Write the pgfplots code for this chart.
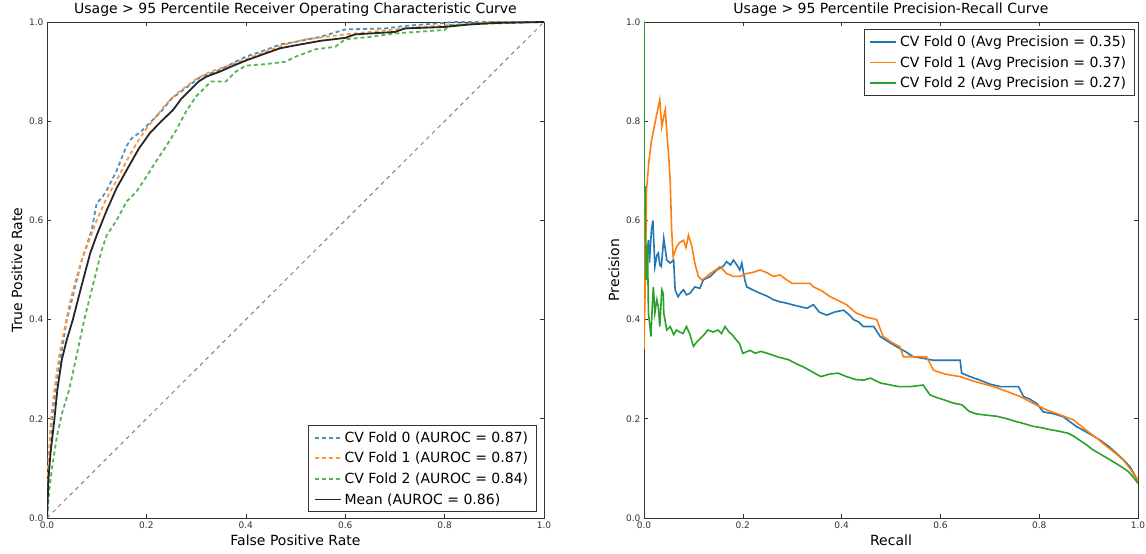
\documentclass[border=0pt]{standalone}
\usepackage{fontspec}
\setmainfont{DejaVu Sans}
\usepackage{pgfplots}
\pgfplotsset{compat=1.18}
\definecolor{cA}{HTML}{1F77B4}
\definecolor{cB}{HTML}{FF7F0E}
\definecolor{cC}{HTML}{2CA02C}
\definecolor{frame}{HTML}{333333}
\pgfplotsset{
  mpl/.style={
    scale only axis, anchor=south west,
    xmin=0, xmax=1, ymin=0, ymax=1,
    xtick={0,0.2,0.4,0.6,0.8,1.0}, ytick={0,0.2,0.4,0.6,0.8,1.0},
    tick align=inside, major tick length=4pt,
    tick style={color=frame, line width=0.6pt},
    axis line style={color=frame, line width=0.8pt},
    /pgf/number format/assume math mode=true,
    /pgf/number format/fixed, /pgf/number format/fixed zerofill,
    /pgf/number format/precision=1,
    ticklabel style={font=\fontsize{9}{10}\selectfont, text=frame},
    label style={font=\fontsize{14}{16}\selectfont},
    title style={font=\fontsize{14}{16}\selectfont, yshift=-4pt},
    legend cell align=left,
    legend style={font=\fontsize{14}{16}\selectfont, draw=frame, line width=0.8pt,
      inner xsep=5pt, inner ysep=3pt, row sep=2.5pt, nodes={inner sep=3pt}},
  }
}
\begin{document}
\begin{tikzpicture}
\useasboundingbox (0,0) rectangle (1146pt,554pt);
\begin{axis}[mpl, at={(47pt,36pt)}, width=497pt, height=496pt,
  title={Usage > 95 Percentile Receiver Operating Characteristic Curve},
  xlabel={False Positive Rate}, ylabel={True Positive Rate},
  legend style={at={(0.985,0.012)}, anchor=south east},
  legend image code/.code={\draw[#1] (0pt,0pt) -- (26pt,0pt);},
]
\addplot[cA!80, line width=1.8pt, dash pattern=on 4pt off 3pt, forget plot] coordinates {
(0,0)(0.005,0.12)(0.01,0.2)(0.02,0.28)(0.03,0.34)(0.04,0.4)(0.05,0.44)(0.06,0.48)(0.07,0.52)(0.08,0.55)(0.09,0.58)(0.1,0.635)(0.11,0.645)(0.12,0.66)(0.14,0.7)(0.16,0.75)(0.17,0.765)(0.19,0.78)(0.21,0.8)(0.23,0.82)(0.25,0.845)(0.27,0.86)(0.29,0.875)(0.31,0.89)(0.34,0.9)(0.37,0.915)(0.4,0.93)(0.43,0.94)(0.47,0.955)(0.5,0.96)(0.55,0.97)(0.6,0.985)(0.68,0.987)(0.72,0.992)(0.82,1.0)(1,1)};
\addplot[cB!80, line width=1.8pt, dash pattern=on 4pt off 3pt, forget plot] coordinates {
(0,0)(0.002,0.1)(0.008,0.2)(0.015,0.26)(0.025,0.33)(0.035,0.38)(0.045,0.43)(0.055,0.47)(0.07,0.52)(0.085,0.56)(0.1,0.6)(0.12,0.645)(0.14,0.68)(0.16,0.72)(0.18,0.755)(0.2,0.785)(0.22,0.81)(0.24,0.835)(0.26,0.855)(0.28,0.87)(0.3,0.885)(0.33,0.9)(0.36,0.91)(0.4,0.925)(0.44,0.94)(0.48,0.955)(0.52,0.965)(0.56,0.97)(0.6,0.975)(0.7,0.985)(0.75,0.99)(0.8,0.993)(0.9,1.0)(1,1)};
\addplot[cC!80, line width=1.8pt, dash pattern=on 4pt off 3pt, forget plot] coordinates {
(0,0)(0.005,0.06)(0.01,0.1)(0.02,0.165)(0.03,0.21)(0.045,0.26)(0.06,0.33)(0.075,0.4)(0.09,0.46)(0.1,0.5)(0.11,0.54)(0.12,0.57)(0.14,0.6)(0.16,0.638)(0.18,0.658)(0.2,0.688)(0.22,0.72)(0.24,0.75)(0.26,0.782)(0.28,0.82)(0.3,0.85)(0.33,0.88)(0.36,0.88)(0.38,0.9)(0.4,0.912)(0.44,0.915)(0.48,0.92)(0.5,0.93)(0.54,0.945)(0.58,0.95)(0.6,0.965)(0.65,0.97)(0.7,0.977)(0.8,0.984)(0.81,0.994)(0.9,0.997)(1,1)};
\addplot[black!85, line width=1.8pt, forget plot] coordinates {
(0,0)(0.003,0.08)(0.007,0.13)(0.015,0.2)(0.021,0.26)(0.03,0.32)(0.04,0.36)(0.052,0.40)(0.07,0.47)(0.087,0.534)(0.1,0.57)(0.12,0.62)(0.14,0.665)(0.164,0.708)(0.185,0.745)(0.207,0.776)(0.23,0.8)(0.254,0.823)(0.27,0.845)(0.288,0.863)(0.305,0.88)(0.321,0.89)(0.348,0.9)(0.375,0.912)(0.402,0.923)(0.435,0.935)(0.469,0.947)(0.5,0.953)(0.55,0.962)(0.6,0.968)(0.62,0.975)(0.7,0.98)(0.72,0.987)(0.8,0.99)(0.85,0.995)(0.9,0.998)(1,1)};
\addplot[gray, line width=1pt, dash pattern=on 4pt off 4pt, forget plot] coordinates {(0,0)(1,1)};
\addlegendimage{cA!80, line width=1.8pt, dash pattern=on 4pt off 3pt}
\addlegendentry{CV Fold 0 (AUROC = 0.87)}
\addlegendimage{cB!80, line width=1.8pt, dash pattern=on 4pt off 3pt}
\addlegendentry{CV Fold 1 (AUROC = 0.87)}
\addlegendimage{cC!80, line width=1.8pt, dash pattern=on 4pt off 3pt}
\addlegendentry{CV Fold 2 (AUROC = 0.84)}
\addlegendimage{black!85, line width=1.8pt}
\addlegendentry{Mean (AUROC = 0.86)}
\end{axis}
\begin{axis}[mpl, at={(644pt,36pt)}, width=494pt, height=496pt,
  title={Usage > 95 Percentile Precision-Recall Curve},
  xlabel={Recall}, ylabel={Precision},
  legend style={at={(0.993,0.985)}, anchor=north east},
  legend image code/.code={\draw[#1] (0pt,0pt) -- (26pt,0pt);},
]
\addplot[cA, line width=1.6pt, forget plot] coordinates {
(0,1)(0,0.5)(0.005,0.52)(0.009,0.56)(0.011,0.515)(0.015,0.58)(0.018,0.60)(0.022,0.507)(0.026,0.53)(0.029,0.534)(0.032,0.51)(0.035,0.507)(0.04,0.564)(0.046,0.52)(0.053,0.514)(0.06,0.52)(0.063,0.46)(0.069,0.446)(0.075,0.455)(0.08,0.46)(0.086,0.45)(0.093,0.453)(0.103,0.466)(0.113,0.463)(0.12,0.48)(0.134,0.487)(0.147,0.50)(0.16,0.507)(0.167,0.517)(0.175,0.51)(0.181,0.52)(0.188,0.51)(0.194,0.50)(0.198,0.514)(0.204,0.48)(0.208,0.466)(0.22,0.46)(0.235,0.453)(0.25,0.447)(0.262,0.44)(0.275,0.436)(0.289,0.433)(0.3,0.43)(0.316,0.426)(0.33,0.423)(0.343,0.43)(0.355,0.415)(0.37,0.409)(0.385,0.415)(0.404,0.419)(0.415,0.41)(0.424,0.40)(0.435,0.395)(0.444,0.386)(0.465,0.386)(0.478,0.366)(0.495,0.355)(0.512,0.345)(0.53,0.335)(0.545,0.325)(0.565,0.322)(0.586,0.318)(0.61,0.318)(0.64,0.318)(0.643,0.292)(0.66,0.285)(0.68,0.278)(0.7,0.27)(0.721,0.265)(0.74,0.265)(0.758,0.265)(0.768,0.245)(0.78,0.24)(0.795,0.231)(0.808,0.214)(0.83,0.21)(0.849,0.204)(0.865,0.192)(0.876,0.184)(0.889,0.177)(0.905,0.168)(0.923,0.157)(0.94,0.145)(0.957,0.13)(0.97,0.118)(0.984,0.103)(1.0,0.075)};
\addplot[cB, line width=1.6pt, forget plot] coordinates {
(0,1)(0,0.34)(0.003,0.5)(0.005,0.66)(0.01,0.72)(0.015,0.76)(0.019,0.78)(0.025,0.81)(0.032,0.843)(0.036,0.789)(0.04,0.81)(0.043,0.823)(0.046,0.78)(0.05,0.73)(0.053,0.68)(0.056,0.58)(0.059,0.527)(0.066,0.547)(0.072,0.555)(0.08,0.56)(0.085,0.545)(0.09,0.57)(0.097,0.547)(0.103,0.513)(0.11,0.487)(0.117,0.48)(0.125,0.485)(0.134,0.493)(0.145,0.5)(0.154,0.507)(0.167,0.493)(0.181,0.487)(0.194,0.487)(0.208,0.493)(0.22,0.495)(0.235,0.50)(0.25,0.494)(0.262,0.487)(0.275,0.49)(0.289,0.48)(0.3,0.473)(0.316,0.473)(0.336,0.473)(0.343,0.466)(0.36,0.458)(0.377,0.446)(0.39,0.44)(0.41,0.43)(0.43,0.413)(0.45,0.405)(0.471,0.40)(0.484,0.366)(0.5,0.355)(0.518,0.345)(0.525,0.325)(0.55,0.325)(0.572,0.325)(0.586,0.298)(0.61,0.29)(0.64,0.285)(0.67,0.275)(0.707,0.265)(0.735,0.255)(0.761,0.245)(0.79,0.23)(0.815,0.218)(0.845,0.207)(0.869,0.198)(0.885,0.185)(0.903,0.171)(0.92,0.158)(0.937,0.144)(0.955,0.13)(0.97,0.117)(0.985,0.098)(0.99,0.09)(1.0,0.075)};
\addplot[cC, line width=1.6pt, forget plot] coordinates {
(0,1)(0,0.67)(0.002,0.668)(0.004,0.48)(0.007,0.55)(0.009,0.413)(0.012,0.386)(0.014,0.366)(0.018,0.453)(0.019,0.466)(0.022,0.413)(0.026,0.44)(0.029,0.426)(0.032,0.386)(0.036,0.46)(0.039,0.453)(0.04,0.413)(0.046,0.379)(0.053,0.386)(0.06,0.37)(0.066,0.379)(0.072,0.375)(0.079,0.372)(0.086,0.386)(0.093,0.37)(0.1,0.346)(0.107,0.355)(0.114,0.362)(0.122,0.37)(0.129,0.379)(0.14,0.375)(0.15,0.379)(0.157,0.372)(0.164,0.386)(0.172,0.375)(0.179,0.369)(0.186,0.36)(0.193,0.352)(0.2,0.332)(0.215,0.338)(0.225,0.332)(0.236,0.336)(0.25,0.332)(0.27,0.325)(0.293,0.319)(0.31,0.31)(0.322,0.305)(0.34,0.295)(0.358,0.285)(0.375,0.29)(0.393,0.292)(0.41,0.285)(0.429,0.279)(0.445,0.278)(0.458,0.282)(0.479,0.272)(0.5,0.268)(0.515,0.265)(0.54,0.265)(0.565,0.268)(0.579,0.248)(0.595,0.242)(0.608,0.238)(0.625,0.232)(0.644,0.228)(0.658,0.215)(0.672,0.21)(0.687,0.208)(0.715,0.205)(0.735,0.2)(0.751,0.195)(0.77,0.19)(0.787,0.185)(0.805,0.182)(0.823,0.178)(0.84,0.175)(0.858,0.171)(0.87,0.165)(0.88,0.158)(0.895,0.148)(0.908,0.138)(0.925,0.128)(0.944,0.117)(0.962,0.106)(0.98,0.094)(0.99,0.083)(1.0,0.07)};
\addlegendimage{cA, line width=1.6pt}
\addlegendentry{CV Fold 0 (Avg Precision = 0.35)}
\addlegendimage{cB, line width=1.6pt}
\addlegendentry{CV Fold 1 (Avg Precision = 0.37)}
\addlegendimage{cC, line width=1.6pt}
\addlegendentry{CV Fold 2 (Avg Precision = 0.27)}
\end{axis}
\end{tikzpicture}
\end{document}
